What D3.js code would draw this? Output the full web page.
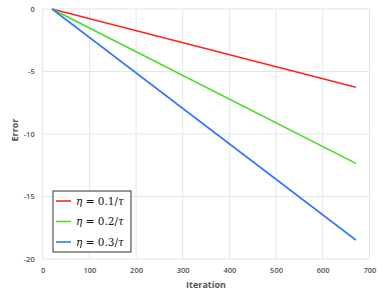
<!DOCTYPE html>
<html>
<head>
<meta charset="utf-8">
<script src="https://cdn.jsdelivr.net/npm/d3@7.9.0/dist/d3.min.js"></script>
<style>
  body { margin: 0; background: #fff; }
  svg text { font-family: "Open Sans", Lato, sans-serif; }
</style>
</head>
<body>
<svg id="chart" width="384" height="300"></svg>
<script>
// data
const iterations = [20, 671];
const labels = ['0.1', '0.2', '0.3'];
const redErr = [0, -6.26];
const greenErr = [0, -12.35];
const blueErr = [0, -18.48];
const colors = ['#ff2222', '#44dd22', '#3377ff'];
const xTicks = [0, 100, 200, 300, 400, 500, 600, 700];
const yTicks = [0, -5, -10, -15, -20];

const series = [redErr, greenErr, blueErr].map((vals, i) => ({
    label: labels[i],
    color: colors[i],
    points: vals.map((v, j) => ({ x: iterations[j], y: v }))
}));

const svg = d3.select('#chart');
const plotL = 42.7, plotR = 369.4, plotT = 9, plotB = 259;

const x = d3.scaleLinear().domain([0, 700]).range([plotL, plotR]);
const y = d3.scaleLinear().domain([0, -20]).range([plotT, plotB]);

//grid
svg.append('g').selectAll('line').data(xTicks).join('line')
    .attr('x1', d => x(d)).attr('x2', d => x(d))
    .attr('y1', plotT).attr('y2', plotB)
    .attr('stroke', '#e3e7e7').attr('stroke-width', 1);
svg.append('g').selectAll('line').data(yTicks).join('line')
    .attr('x1', plotL).attr('x2', plotR)
    .attr('y1', d => y(d)).attr('y2', d => y(d))
    .attr('stroke', '#e3e7e7').attr('stroke-width', 1);

//axes
const xAxis = svg.append('g')
    .attr('transform', `translate(0,${plotB})`)
    .call(d3.axisBottom(x).tickValues(xTicks).tickSize(0).tickPadding(9));
const yAxis = svg.append('g')
    .attr('transform', `translate(${plotL},0)`)
    .call(d3.axisLeft(y).tickValues(yTicks).tickSize(0).tickPadding(8)
        .tickFormat(d => d === 0 ? '0' : String(d)));
[xAxis, yAxis].forEach(a => {
    a.select('.domain').remove();
    a.selectAll('text')
        .attr('fill', '#555')
        .attr('font-size', 7.5)
        .attr('font-weight', 600)
        .style('font-family', '"Open Sans", sans-serif');
});

//axis titles
svg.append('text')
    .attr('x', (plotL + plotR) / 2).attr('y', 288)
    .attr('text-anchor', 'middle')
    .attr('font-size', 9).attr('font-weight', 700).attr('fill', '#555')
    .text('Iteration');
svg.append('text')
    .attr('transform', `translate(18,${(plotT + plotB) / 2 - 4}) rotate(-90)`)
    .attr('text-anchor', 'middle')
    .attr('font-size', 9).attr('font-weight', 700).attr('fill', '#555')
    .text('Error');

//lines
const line = d3.line().x(d => x(d.x)).y(d => y(d.y));
svg.append('g').selectAll('path').data(series).join('path')
    .attr('d', d => line(d.points))
    .attr('fill', 'none')
    .attr('stroke', d => d.color)
    .attr('stroke-width', 1.6);

//legend
const lg = svg.append('g').attr('transform', 'translate(53,191)');
lg.append('rect')
    .attr('x', 0).attr('y', 0).attr('width', 78).attr('height', 61)
    .attr('fill', '#fff').attr('stroke', '#333').attr('stroke-width', 1);
series.forEach((s, i) => {
    const row = lg.append('g').attr('transform', `translate(0,${10 + i * 20.5})`);
    row.append('line')
        .attr('x1', 3).attr('x2', 18).attr('y1', 0).attr('y2', 0)
        .attr('stroke', s.color).attr('stroke-width', 1.6);
    const t = row.append('text')
        .attr('x', 23).attr('y', 3.5)
        .attr('font-size', 10.5)
        .style('font-family', '"DejaVu Serif", "Liberation Serif", serif')
        .attr('fill', '#111');
    t.append('tspan').attr('font-style', 'italic').text('\u03b7');
    t.append('tspan').text(` = ${s.label}/`);
    t.append('tspan').attr('font-style', 'italic').text('\u03c4');
});
</script>
</body>
</html>
